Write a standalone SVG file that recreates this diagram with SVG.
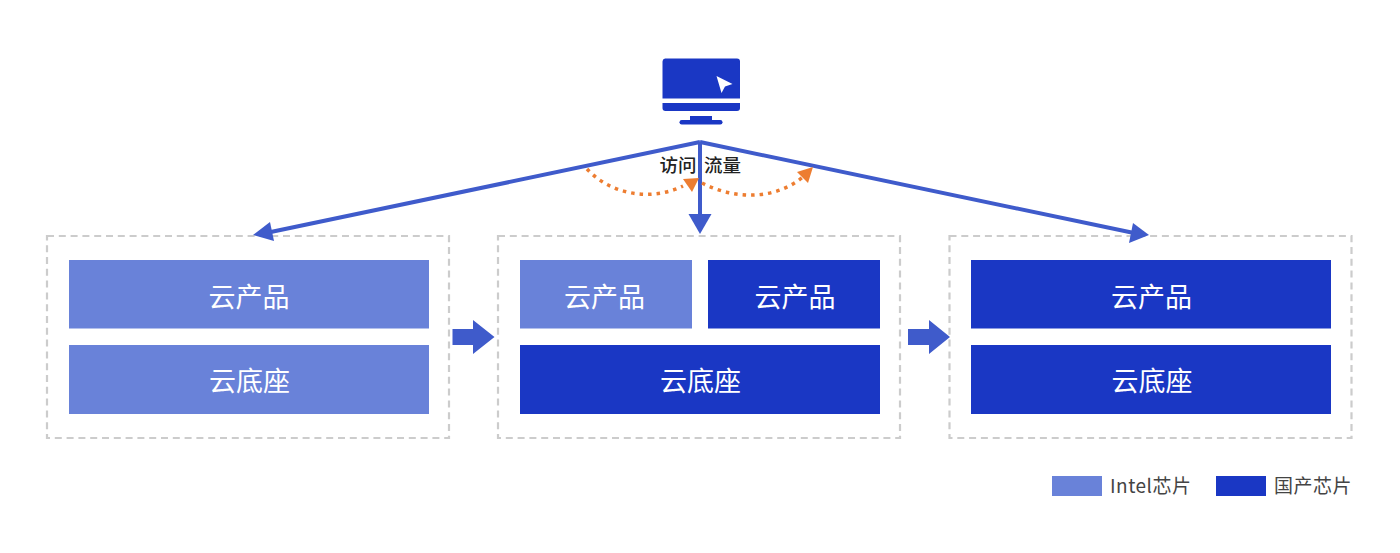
<svg xmlns="http://www.w3.org/2000/svg" width="1400" height="553" viewBox="0 0 1400 553">
<style>
.box{fill:none;stroke:#cccccc;stroke-width:2.200;stroke-dasharray:7 4.800}
.l{fill:#6982d9}.d{fill:#1a37c4}
.t{font-family:"Noto Sans CJK SC","Noto Sans",sans-serif;font-size:27px;fill:#fff;text-anchor:middle}
.lg{font-family:"Noto Sans CJK SC","Noto Sans",sans-serif;font-size:19px;fill:#444;letter-spacing:.5px}
.lab{font-family:"Noto Sans CJK SC","Noto Sans",sans-serif;font-size:18.500px;font-weight:500;fill:#222;text-anchor:middle}
.c{fill:none;stroke:#3f5bcb;stroke-width:4}
.o{fill:none;stroke:#ed7d31;stroke-width:3.500;stroke-dasharray:3.500 5}
.ah{fill:#3f5bcb}.oh{fill:#ed7d31}
</style>
<rect width="1400" height="553" fill="#fff"/>
<g id="panel-left"><rect class="box" x="47" y="236" width="402" height="202"/></g>
<g id="panel-mid"><rect class="box" x="498" y="236" width="402" height="202"/></g>
<g id="panel-right"><rect class="box" x="949.500" y="236" width="402" height="202"/></g>
<g id="n1"><rect class="l" x="69" y="260" width="360" height="68.500"/><text class="t" x="249" y="307">云产品</text></g>
<g id="n2"><rect class="l" x="69" y="345" width="360" height="69"/><text class="t" x="249.500" y="391">云底座</text></g>
<g id="n3"><rect class="l" x="520" y="260" width="172" height="68.500"/><text class="t" x="604.500" y="307">云产品</text></g>
<g id="n4"><rect class="d" x="708" y="260" width="172" height="68.500"/><text class="t" x="795" y="307">云产品</text></g>
<g id="n5"><rect class="d" x="520" y="345" width="360" height="69"/><text class="t" x="700.500" y="391">云底座</text></g>
<g id="n6"><rect class="d" x="971" y="260" width="360" height="68.500"/><text class="t" x="1151.500" y="307">云产品</text></g>
<g id="n7"><rect class="d" x="971" y="345" width="360" height="69"/><text class="t" x="1152" y="391">云底座</text></g>
<g id="computer">
<path class="d" d="M665 58.500H737a3 3 0 0 1 3 3V98.500H662.500V61.500a3 3 0 0 1 2.500-3z"/>
<path class="d" d="M662.500 103H740V108a3 3 0 0 1-3 3H665.500a3 3 0 0 1-3-3z"/>
<rect class="d" x="690" y="116" width="22" height="5"/>
<rect class="d" x="679.500" y="120" width="43" height="4.500" rx="2.200"/>
<path fill="#fff" d="M716.500 76L732.500 84L725 86.500L721.500 93z"/>
</g>
<g id="connectors">
<path class="c" d="M700 142L266 233"/>
<path class="c" d="M700 142V218"/>
<path class="c" d="M700 142L1134 233"/>
<path class="ah" d="M253 235L270 222L274 241z"/>
<path class="ah" d="M688.500 214H711.500L700 234z"/>
<path class="ah" d="M1149 235L1129 243L1133 223z"/>
<path class="o" d="M587 169C610 194 650 202 683 186"/>
<path class="o" d="M702 183C735 200 775 200 803 177"/>
<path class="oh" d="M683 179L699 178L692 192z"/>
<path class="oh" d="M813 167L808 183L797 172z"/>
<path class="ah" d="M452.500 329H473V320L494.500 337L473 354V345H452.500z"/>
<path class="ah" d="M908 329H929V320L950 337L929 354V345H908z"/>
</g>
<text class="lab" x="678" y="172">访问</text>
<text class="lab" x="722.500" y="172">流量</text>
<g id="legend">
<rect class="l" x="1052" y="476" width="50" height="20"/>
<text class="lg" x="1110" y="493">Intel芯片</text>
<rect class="d" x="1216" y="476" width="50" height="20"/>
<text class="lg" x="1274" y="493">国产芯片</text>
</g>
</svg>
